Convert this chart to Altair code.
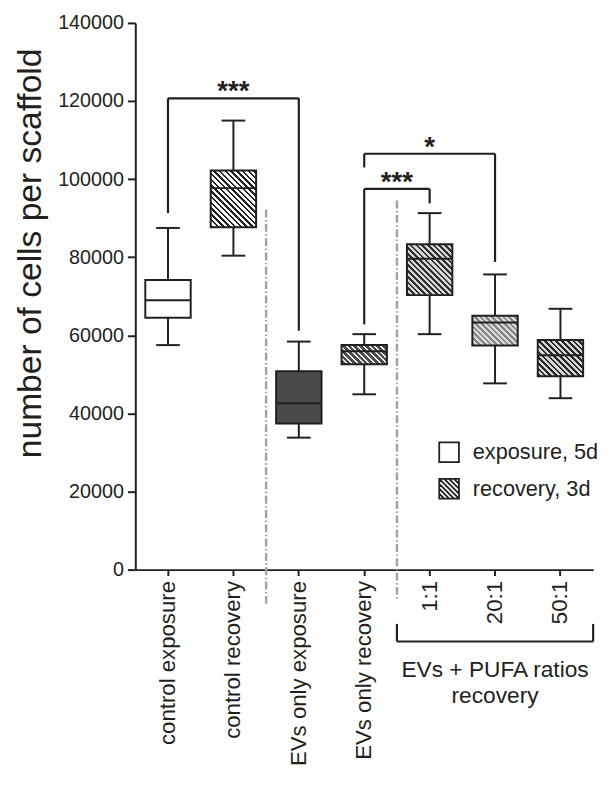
import altair as alt
import pandas as pd

# ---------------- data ----------------
groups = ["control exposure", "control recovery", "EVs only exposure",
          "EVs only recovery", "1:1", "20:1", "50:1"]
whisker_low = [57500, 80400, 33800, 44900, 60300, 47700, 43900]
q1 = [64500, 87700, 37400, 52600, 70300, 57400, 49500]
median = [69000, 97700, 42600, 55900, 79600, 63300, 54900]
q3 = [74200, 102200, 50800, 57500, 83300, 65000, 58800]
whisker_high = [87500, 115000, 58400, 60300, 91300, 75600, 66800]

# significance brackets
br_from = ["control exposure", "EVs only recovery", "EVs only recovery"]
br_to = ["EVs only exposure", "1:1", "20:1"]
br_top = [120700, 97500, 106500]
br_left_end = [91300, 62800, 103000]
br_right_end = [61200, 93800, 78800]
star_text = ["***", "***", "*"]
star_group = ["control recovery", "EVs only recovery", "1:1"]
star_band = [0.5, 1.0, 0.5]

# dash-dot separators (drawn at the right edge of these groups)
sep_after = ["control recovery", "EVs only recovery"]
sep_top = [92200, 94500]
sep_bottom = [-9100, -7500]

# bottom group bracket
pufa_first = "1:1"
pufa_last = "50:1"
pufa_line = -18400
pufa_leg_top = -13900
pufa_label = "EVs + PUFA ratios\nrecovery"
pufa_label_group = "20:1"
pufa_label_y = -27500

phases = ["exposure, 5d", "recovery, 3d"]

# ---------------- styles ----------------
FONT = "Liberation Sans"
INK = "#231f20"
PLOT_W, PLOT_H, YMAX = 464, 554, 140000
BOX_W = 46

# kind, background, stripe colour, stripe width (px along a row)
styles = {
    "control exposure": ("solid", "white", None, 0),
    "control recovery": ("hatch", "white", INK, 2.5),
    "EVs only exposure": ("solid", "#4a4a4a", None, 0),
    "EVs only recovery": ("hatch", "#f2f2f2", "#4d4d4d", 3.8),
    "1:1": ("hatch", "#d6d6d6", "#2e2e2e", 2.7),
    "20:1": ("hatch", "#d8d8d8", "#858585", 2.8),
    "50:1": ("hatch", "#d6d6d6", "#262626", 2.7),
}


def hatch_gradient(bg, fg, H, dark, W=BOX_W, period=5.8):
    L = W + H
    stops = [{"color": bg, "offset": 0}]
    start = 1.0
    while start < L:
        a = start / L
        b = min((start + dark) / L, 1.0)
        stops += [{"color": bg, "offset": a}, {"color": fg, "offset": a},
                  {"color": fg, "offset": b}, {"color": bg, "offset": b}]
        start += period
    stops.append({"color": bg, "offset": 1})
    k = (W + H) / (W * W + H * H)
    return {"gradient": "linear", "stops": stops,
            "x1": 0, "y1": 1, "x2": k * W, "y2": 1 - k * H}


df = pd.DataFrame({"group": groups, "lo": whisker_low, "q1": q1,
                   "med": median, "q3": q3, "hi": whisker_high})

xscale = alt.Scale(domain=groups, paddingInner=0, paddingOuter=0)
yscale = alt.Scale(domain=[0, YMAX], nice=False)
xaxis = alt.Axis(title=None, labelAngle=-90, labelFont=FONT, labelFontSize=22.5,
                 labelColor=INK, labelPadding=5, labelLimit=400, tickSize=6,
                 tickWidth=2, tickColor=INK, domainWidth=2, domainColor=INK,
                 grid=False)
YTITLE = "number of cells per scaffold"
yaxis = alt.Axis(title=YTITLE, values=list(range(0, YMAX + 1, 20000)), format="d",
                 labelFont=FONT, labelFontSize=20, labelColor=INK, labelPadding=4,
                 tickSize=8, tickWidth=2, tickColor=INK, domainWidth=2,
                 domainColor=INK, grid=False, titleFont=FONT, titleFontSize=34,
                 titleFontWeight="normal", titleColor=INK, titleX=-106, titleY=233,
                 titleAlign="center", titleBaseline="middle")


def X(field, bp=None):
    if bp is None:
        return alt.X(field, type="nominal", scale=xscale, axis=xaxis)
    return alt.X(field, type="nominal", scale=xscale, axis=xaxis, bandPosition=bp)


def X2(field, bp):
    return alt.X2(field, bandPosition=bp)


def Y(field):
    return alt.Y(field, type="quantitative", scale=yscale, axis=yaxis, title=YTITLE)


layers = []

# separators
sep_df = pd.DataFrame({"after": sep_after, "top": sep_top, "bottom": sep_bottom})
layers.append(alt.Chart(sep_df).mark_rule(color="#a3a3a3", strokeWidth=2.5,
                                          strokeDash=[8, 2.5, 1.5, 2.5]).encode(
    x=X("after", 1), y=Y("top"), y2="bottom"))

# whiskers and caps
layers.append(alt.Chart(df).mark_rule(color=INK, strokeWidth=2).encode(
    x=X("group"), y=Y("lo"), y2="hi"))
layers.append(alt.Chart(df).mark_tick(color=INK, size=24, thickness=2, opacity=1).encode(
    x=X("group"), y=Y("lo")))
layers.append(alt.Chart(df).mark_tick(color=INK, size=24, thickness=2, opacity=1).encode(
    x=X("group"), y=Y("hi")))

# boxes
for g, lo_q, hi_q in zip(groups, q1, q3):
    kind, bg, fg, dk = styles[g]
    if kind == "solid":
        fill = bg
    else:
        Hpx = (hi_q - lo_q) * PLOT_H / YMAX
        fill = hatch_gradient(bg, fg, Hpx, dk)
    layers.append(alt.Chart(df).transform_filter(alt.datum.group == g).mark_bar(
        size=BOX_W, fill=fill, stroke=INK, strokeWidth=2).encode(
        x=X("group"), y=Y("q1"), y2="q3"))

# medians
layers.append(alt.Chart(df).mark_tick(color=INK, size=BOX_W, thickness=2,
                                      opacity=1).encode(x=X("group"), y=Y("med")))

# significance brackets
br_df = pd.DataFrame({"from": br_from, "to": br_to, "top": br_top,
                      "lend": br_left_end, "rend": br_right_end})
layers.append(alt.Chart(br_df).mark_rule(color=INK, strokeWidth=2.2).encode(
    x=X("from", 0.5), x2=X2("to", 0.5), y=Y("top")))
layers.append(alt.Chart(br_df).mark_rule(color=INK, strokeWidth=2.2).encode(
    x=X("from", 0.5), y=Y("top"), y2="lend"))
layers.append(alt.Chart(br_df).mark_rule(color=INK, strokeWidth=2.2).encode(
    x=X("to", 0.5), y=Y("top"), y2="rend"))

star_df = pd.DataFrame({"txt": star_text, "g": star_group, "bp": star_band,
                        "top": br_top})
for bp in sorted(set(star_band)):
    layers.append(alt.Chart(star_df).transform_filter(alt.datum.bp == bp).mark_text(
        font=FONT, fontSize=28, fontWeight="bold", color=INK, baseline="alphabetic",
        dy=2).encode(x=X("g", bp), y=Y("top"), text="txt:N"))

# bottom bracket
pb_df = pd.DataFrame({"a": [pufa_first], "b": [pufa_last], "line": [pufa_line],
                      "leg": [pufa_leg_top], "lab": [pufa_label],
                      "lg": [pufa_label_group], "ly": [pufa_label_y]})
layers.append(alt.Chart(pb_df).mark_rule(color=INK, strokeWidth=2.2).encode(
    x=X("a", 0), x2=X2("b", 1), y=Y("line")))
layers.append(alt.Chart(pb_df).mark_rule(color=INK, strokeWidth=2.2).encode(
    x=X("a", 0), y=Y("line"), y2="leg"))
layers.append(alt.Chart(pb_df).mark_rule(color=INK, strokeWidth=2.2).encode(
    x=X("b", 1), y=Y("line"), y2="leg"))
layers.append(alt.Chart(pb_df).mark_text(
    font=FONT, fontSize=23, color=INK, baseline="alphabetic", lineBreak="\n",
    lineHeight=26).encode(x=X("lg"), y=Y("ly"), text="lab:N"))

# legend (drawn only as a legend)
sq = "M-1,-1H1V1H-1Z"
lines = []
for kk in [-1.5, -1.0, -0.5, 0.0, 0.5, 1.0, 1.5]:
    if kk >= 0:
        lines.append(f"M{-1 + kk},-1L1,{1 - kk}")
    else:
        lines.append(f"M-1,{-1 - kk}L{1 + kk},1")
hatched = sq + "".join(lines)
leg_df = pd.DataFrame({"phase": phases})
layers.append(alt.Chart(leg_df).transform_filter("false").mark_point(
    filled=False, color=INK, strokeWidth=1.8, opacity=1).encode(
    shape=alt.Shape("phase:N", scale=alt.Scale(domain=phases, range=[sq, hatched]),
                    legend=alt.Legend(title=None, orient="none", legendX=307,
                                      legendY=424, padding=0, symbolSize=400,
                                      symbolOpacity=1, symbolStrokeColor=INK,
                                      symbolStrokeWidth=1.8,
                                      labelFont=FONT, labelFontSize=22,
                                      labelColor=INK, labelOffset=13,
                                      rowPadding=9, labelLimit=300))))

chart = alt.layer(*layers).properties(
    width=PLOT_W, height=PLOT_H,
    autosize=alt.AutoSizeParams(type="none"),
    padding={"left": 129, "top": 10, "right": 12, "bottom": 205},
).configure_view(stroke=None)

chart.save("out.html", embed_options={"renderer": "svg", "actions": False})
